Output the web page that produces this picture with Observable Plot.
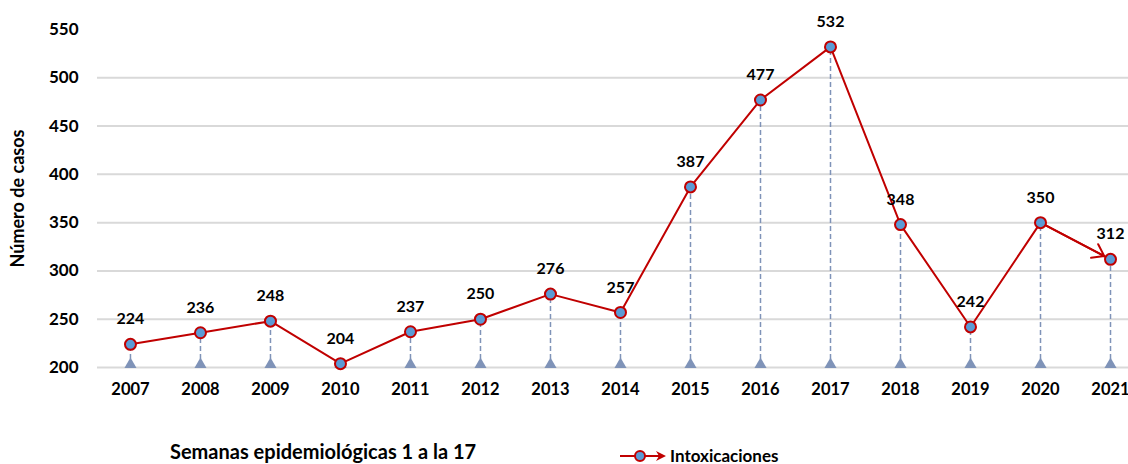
<!DOCTYPE html>
<html>
<head>
<meta charset="utf-8">
<script src="https://cdn.jsdelivr.net/npm/d3@7"></script>
<script src="https://cdn.jsdelivr.net/npm/@observablehq/plot@0.6"></script>
<style>
  body { margin: 0; background: #fff; font-family: Lato, "Open Sans", sans-serif; }
  #wrap { position: relative; width: 1128px; height: 464px; overflow: hidden; }
  #chart svg { overflow: visible; }
  #caption { position: absolute; left: 170px; top: 440px; font-size: 20px; line-height: 22px; font-weight: bold; color: #000; white-space: nowrap; }
  #legend { position: absolute; left: 620px; top: 447px; font-size: 17px; line-height: 17px; font-weight: bold; color: #000; display: flex; align-items: center; white-space: nowrap; }
</style>
</head>
<body>
<div id="wrap">
  <div id="chart"></div>
  <div id="caption">Semanas epidemiológicas 1 a la 17</div>
  <div id="legend">
    <svg width="48" height="14" style="margin-right:2px">
      <line x1="0" y1="7" x2="40" y2="7" stroke="#C00000" stroke-width="2"></line>
      <path d="M36,2 L46,7 L36,12 L39,7 Z" fill="#C00000"></path>
      <circle cx="20" cy="7" r="5" fill="#5B9BD5" stroke="#C00000" stroke-width="2"></circle>
    </svg>
    <span>Intoxicaciones</span>
  </div>
</div>
<script>
const years = [2007, 2008, 2009, 2010, 2011, 2012, 2013, 2014, 2015, 2016, 2017, 2018, 2019, 2020, 2021];
const cases = [224, 236, 248, 204, 237, 250, 276, 257, 387, 477, 532, 348, 242, 350, 312];
const yTicks = [200, 250, 300, 350, 400, 450, 500, 550];
const gridValues = [200, 250, 300, 350, 400, 450, 500];
const seriesName = "Intoxicaciones";
const yTitle = "Número de casos";

const data = years.map((year, i) => ({year, cases: cases[i]}));
const n = years.length;
const lastSeg = [{x1: years[n - 2], y1: cases[n - 2], x2: years[n - 1], y2: cases[n - 1]}];

const chart = Plot.plot({
  width: 1128,
  height: 420,
  marginLeft: 97,
  marginRight: 0,
  marginTop: 29,
  marginBottom: 53,
  style: {fontFamily: "Lato, 'Open Sans', sans-serif", fontWeight: "bold", color: "#000", background: "#fff", overflow: "visible"},
  x: {type: "linear", domain: [2006.529, 2021.257], axis: null},
  y: {domain: [200, 550], axis: null},
  marks: [
    Plot.ruleY(gridValues, {stroke: "#D9D9D9", strokeWidth: 2}),
    Plot.axisX(years, {tickSize: 0, tickPadding: 16, fontSize: 16.5, fontWeight: "bold", tickFormat: d => String(d), label: null}),
    Plot.axisY(yTicks, {tickSize: 0, tickPadding: 19, fontSize: 17, fontWeight: "bold", label: null}),
    Plot.text([yTitle], {frameAnchor: "left", rotate: -90, dx: -79, textAnchor: "middle", fontSize: 18, fontWeight: "bold", fill: "#000"}),
    Plot.ruleX(data, {x: "year", y1: 200, y2: "cases", stroke: "#7F93B8", strokeWidth: 1.5, strokeDasharray: "5,3"}),
    Plot.dot(data, {x: "year", y: 200, symbol: "triangle", r: 4.5, fill: "#7F93B8", stroke: "none", dy: -3}),
    Plot.line(data, {x: "year", y: "cases", stroke: "#C00000", strokeWidth: 2}),
    Plot.arrow(lastSeg, {x1: "x1", y1: "y1", x2: "x2", y2: "y2", stroke: "#C00000", strokeWidth: 2, insetEnd: 7, headLength: 10, headAngle: 70}),
    Plot.dot(data, {x: "year", y: "cases", r: 5.5, fill: "#5B9BD5", stroke: "#C00000", strokeWidth: 2}),
    Plot.text(data, {x: "year", y: "cases", text: d => String(d.cases), dy: -25, fontSize: 16, fontWeight: "bold", fill: "#000"})
  ]
});
document.getElementById("chart").appendChild(chart);
</script>
</body>
</html>
